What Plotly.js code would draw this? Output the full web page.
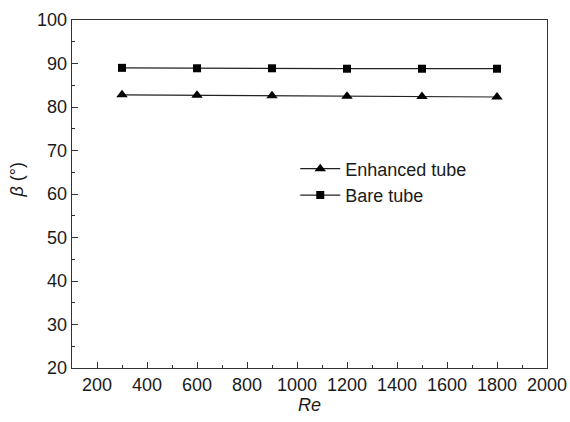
<!DOCTYPE html>
<html>
<head>
<meta charset="utf-8">
<script src="https://cdn.plot.ly/plotly-3.0.1.min.js"></script>
<style>html,body{margin:0;padding:0;background:#fff;}#chart{width:570px;height:422px;}</style>
</head>
<body>
<div id="chart"></div>
<script>
const reValues = [300, 600, 900, 1200, 1500, 1800];
const enhancedTube = [82.8, 82.7, 82.6, 82.5, 82.4, 82.3];
const bareTube = [89.0, 88.9, 88.9, 88.8, 88.8, 88.8];
const seriesNames = ["Enhanced tube", "Bare tube"];

const font = "Liberation Sans, Arial, sans-serif";
const fs = 18;
const traces = [
  {x: reValues, y: enhancedTube, name: seriesNames[0], mode: "lines+markers", type: "scatter",
   line: {color: "#222", width: 1.2}, marker: {symbol: "triangle-up", size: 10, color: "#000"}},
  {x: reValues, y: bareTube, name: seriesNames[1], mode: "lines+markers", type: "scatter",
   line: {color: "#222", width: 1.2}, marker: {symbol: "square", size: 8, color: "#000"}}
];
const layout = {
  width: 570, height: 422,
  margin: {l: 72, r: 23, t: 20, b: 54},
  paper_bgcolor: "#fff", plot_bgcolor: "#fff",
  font: {family: font, size: fs, color: "#1a1a1a"},
  showlegend: true,
  legend: {x: 0.47, y: 0.625, xanchor: "left", yanchor: "top", bgcolor: "rgba(0,0,0,0)",
           itemwidth: 40, font: {family: font, size: fs, color: "#1a1a1a"}, tracegroupgap: 0},
  xaxis: {range: [100, 2000], tickvals: [200,400,600,800,1000,1200,1400,1600,1800,2000],
          ticks: "inside", ticklen: 6, tickcolor: "#333", showline: true, linecolor: "#333", linewidth: 1.3,
          mirror: true, showgrid: false, zeroline: false,
          minor: {ticks: "inside", ticklen: 3, dtick: 100, tick0: 100, tickcolor: "#333", showgrid: false},
          tickfont: {family: font, size: fs, color: "#1a1a1a"},
          title: {text: "<i>Re</i>", font: {family: font, size: fs, color: "#1a1a1a"}, standoff: 2}},
  yaxis: {range: [20, 100], dtick: 10, tick0: 20,
          ticks: "inside", ticklen: 6, tickcolor: "#333", showline: true, linecolor: "#333", linewidth: 1.3,
          mirror: true, showgrid: false, zeroline: false,
          minor: {ticks: "inside", ticklen: 3, dtick: 5, tickcolor: "#333", showgrid: false},
          tickfont: {family: font, size: fs, color: "#1a1a1a"}},
  annotations: [{text: "<i>β</i> (°)", xref: "paper", yref: "paper", x: -0.115, y: 0.54,
                 xanchor: "center", yanchor: "middle", textangle: -90, showarrow: false,
                 font: {family: font, size: fs, color: "#1a1a1a"}}]
};
Plotly.newPlot("chart", traces, layout, {displayModeBar: false, staticPlot: true});
</script>
</body>
</html>
